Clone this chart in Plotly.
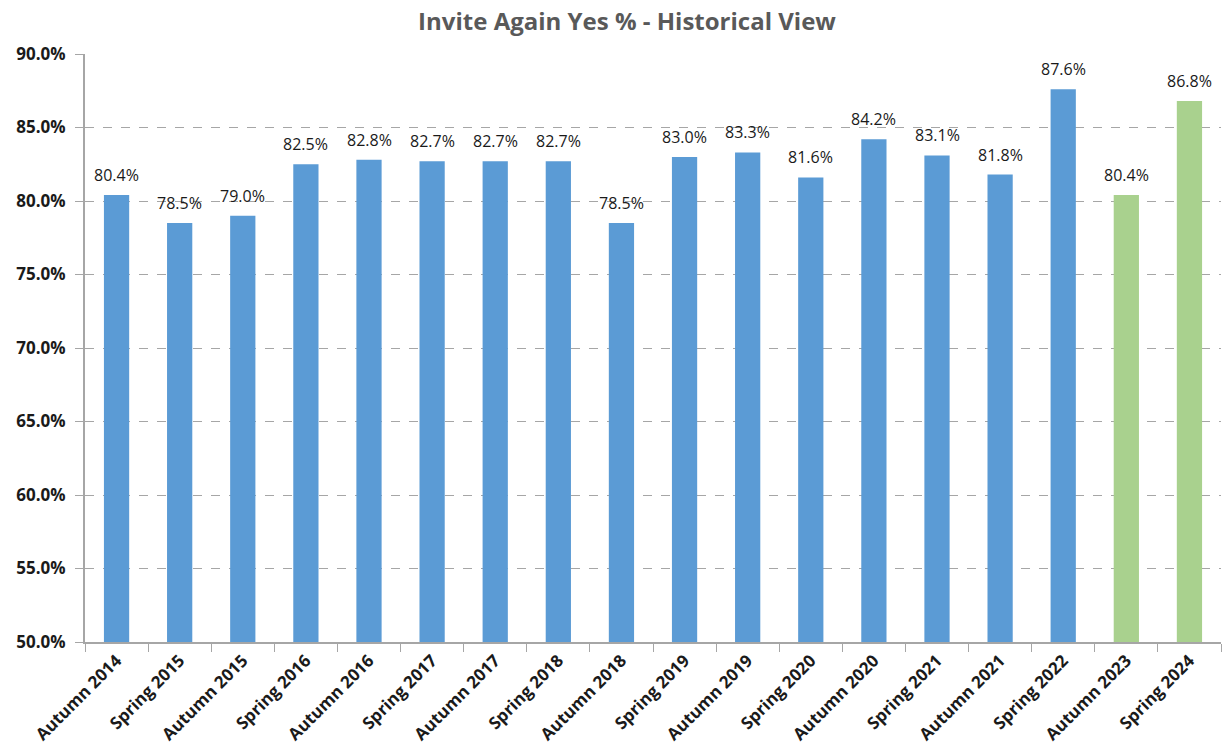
import plotly.graph_objects as go

categories = ["Autumn 2014", "Spring 2015", "Autumn 2015", "Spring 2016", "Autumn 2016",
              "Spring 2017", "Autumn 2017", "Spring 2018", "Autumn 2018", "Spring 2019",
              "Autumn 2019", "Spring 2020", "Autumn 2020", "Spring 2021", "Autumn 2021",
              "Spring 2022", "Autumn 2023", "Spring 2024"]
values = [80.4, 78.5, 79.0, 82.5, 82.8, 82.7, 82.7, 82.7, 78.5, 83.0,
          83.3, 81.6, 84.2, 83.1, 81.8, 87.6, 80.4, 86.8]
highlight = [False] * 16 + [True, True]

colors = ["#A9D18E" if h else "#5B9BD5" for h in highlight]
FONT = "Open Sans, Lato, sans-serif"

fig = go.Figure(go.Bar(
    x=categories, y=values,
    marker=dict(color=colors, line=dict(width=0)),
    hoverinfo="x+y",
))

for c, v in zip(categories, values):
    fig.add_annotation(
        x=c, y=v, text=f"{v:.1f}%", showarrow=False,
        yanchor="middle", yshift=20,
        font=dict(family=FONT, size=16, color="#1a1a1a"),
    )

fig.update_layout(
    width=1223, height=752,
    margin=dict(l=85, r=2, t=54, b=110, autoexpand=False),
    plot_bgcolor="white", paper_bgcolor="white",
    bargap=0.6,
    showlegend=False,
    title=dict(text="<b>Invite Again Yes % - Historical View</b>", x=627 / 1223, xanchor="center",
               xref="container", yref="container", y=1 - 22 / 752, yanchor="middle",
               font=dict(family=FONT, size=24, color="#595959")),
    font=dict(family=FONT),
)
fig.update_yaxes(
    range=[50, 90], dtick=5, tickformat=".1f", ticksuffix="%",
    showgrid=True, gridcolor="#A6A6A6", griddash="dash", gridwidth=1,
    showline=True, linecolor="#A6A6A6", linewidth=2,
    ticks="outside", ticklen=8, tickcolor="#A6A6A6",
    ticklabelstandoff=6,
    tickfont=dict(size=17, color="#1a1a1a", family=FONT, weight="bold"),
    zeroline=False, automargin=False,
)
fig.update_xaxes(
    tickangle=-45, showline=True, linecolor="#A6A6A6", linewidth=2,
    ticks="outside", tickson="boundaries", ticklen=8, tickcolor="#A6A6A6",
    tickfont=dict(size=17, color="#1a1a1a", family=FONT, weight="bold"),
    automargin=False,
)

fig.write_html("out.html", config={"displayModeBar": False},
               post_script="document.body.style.margin='0';document.body.style.overflow='hidden';")
